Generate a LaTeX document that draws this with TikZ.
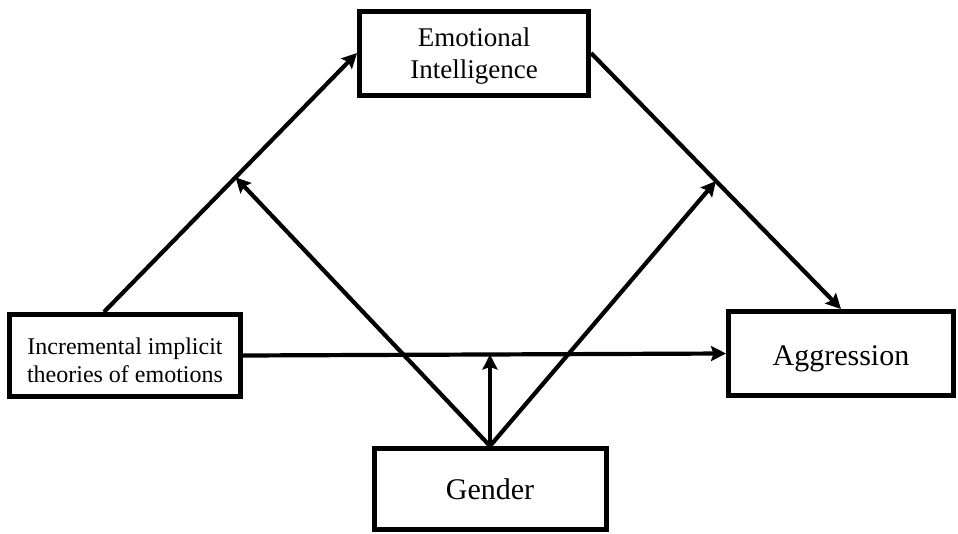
\documentclass[tikz,border=0pt]{standalone}
\usepackage{fontspec}
\setmainfont{Liberation Serif}
\usetikzlibrary{arrows.meta,calc}
\begin{document}
\begin{tikzpicture}[x=1pt,y=-1pt,
  box/.style={draw,line width=5pt,rectangle,align=center,inner sep=0pt},
  arr/.style={line width=4.2pt,-{Stealth[length=15pt,width=15pt,inset=2.5pt]}}]
\useasboundingbox (0,0) rectangle (958,533);
\node[box,minimum width=229pt,minimum height=84pt,font=\fontsize{27}{32}\selectfont] (ei) at (474,53) {\raisebox{-3pt}[\height][\depth]{\parbox{200pt}{\centering Emotional\\Intelligence}}};
\node[box,minimum width=231pt,minimum height=82pt,font=\fontsize{24}{28}\selectfont] (inc) at (125,355.5) {\raisebox{-5pt}[\height][\depth]{\parbox{220pt}{\centering Incremental implicit\\theories of emotions}}};
\node[box,minimum width=225pt,minimum height=84pt,font=\fontsize{30}{34}\selectfont] (agg) at (841,353.5) {\raisebox{-5pt}[\height][\depth]{Aggression}};
\node[box,minimum width=232pt,minimum height=81pt,font=\fontsize{30}{34}\selectfont] (gen) at (490,489) {Gender};
\coordinate (s1) at ([xshift=97pt]inc.north west);
\draw[arr] (s1) -- (ei.west);
\draw[arr] (ei.east) -- (agg.north);
\draw[arr] (inc.east) -- (agg.west);
\coordinate (m1) at ($(s1)!0.52!(ei.west)$);
\coordinate (m2) at ($(ei.east)!0.5!(agg.north)$);
\coordinate (m3) at ($(inc.east)!0.51!(agg.west)$);
\draw[arr] (gen.north) -- (m1);
\draw[arr] (gen.north) -- (m2);
\draw[arr] (gen.north) -- (gen.north |- m3);
\end{tikzpicture}
\end{document}
